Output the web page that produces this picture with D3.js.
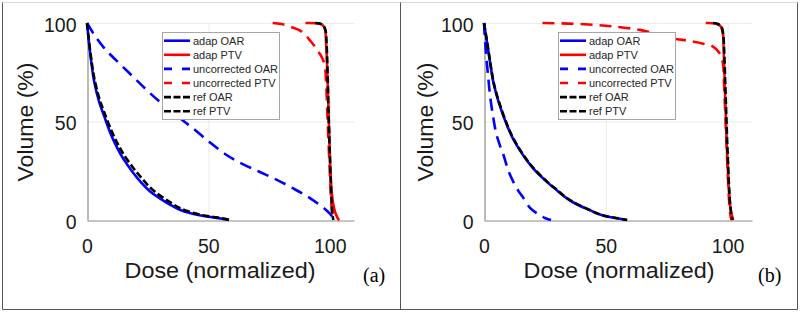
<!DOCTYPE html>
<html><head><meta charset="utf-8">
<script src="https://cdn.jsdelivr.net/npm/d3@7/dist/d3.min.js"></script>
<style>body{margin:0;background:#fff}svg{display:block}</style>
</head><body>
<svg id="c" width="800" height="312"></svg>
<script>
// ---- data ----
const xTicks = [0, 50, 100];
const yTicks = [0, 50, 100];
const legendLabels = ["adap OAR", "adap PTV", "uncorrected OAR", "uncorrected PTV", "ref OAR", "ref PTV"];
const panelLabels = ["(a)", "(b)"];
const xLabel = "Dose (normalized)";
const yLabel = "Volume (%)";

// panel (a): [dose, volume]
const aAdapOAR = [[0,100],[1,88],[2,78],[3,70],[5,60],[7,53],[10,43],[12.5,36.5],[15,31],[19,24],[22,19.5],[26,14.5],[30,11],[34.5,7.6],[38,5.3],[42.7,3.4],[47,2.3],[51,1.5],[55,0.8],[58.4,0]];
const aAdapPTV = [[90,100],[95,99.8],[97,99],[98,97],[98.5,90],[99,75],[99.5,55],[100,35],[100.5,20],[101,12],[101.8,6],[102.5,3],[103.5,0.5],[104,0]];
const aUncOAR = [[0,100],[3,94],[6.6,88],[10,83.5],[15,77.5],[20,71.5],[25,65.5],[30,60],[35,55],[40,50],[43.7,46.5],[50,40],[57.5,33],[64,28.5],[71,24.5],[78,20.5],[85,16],[92,11],[98.6,5],[101,2]];
const aUncPTV = [[76.5,100],[80,99.5],[84,98],[88,96],[92,91],[95,86],[97,82],[98,78],[98.5,70],[99,55],[99.5,40],[100,25],[100.5,12],[101,4],[101.5,0]];
const aRefOAR = [[0,100],[1,89],[2,79.5],[3,72],[5,62],[7,55],[10,45.5],[12.5,39],[15,33.5],[19,26.5],[22,22],[26,16.5],[30,12.5],[34.5,8.8],[38,6.2],[42.7,4],[47,2.6],[51,1.7],[55,1],[59,0]];
const aRefPTV = [[94,100],[96,99.7],[97.5,98.5],[98.3,96],[98.7,90],[99.1,75],[99.5,55],[100,35],[100.4,20],[100.8,8],[101.2,2],[101.5,0]];

// panel (b)
const bAdapOAR = [[0,100],[1,92],[2,84],[3,76],[4,69],[6,60],[9.3,48.5],[12,41],[16,33],[20,26.5],[25.7,19.5],[30,15],[34,11],[38,8],[43.4,5],[47,3],[50.3,1.8],[55,0.8],[58.5,0]];
const bAdapPTV = [[91,100],[95,99.7],[97,98.5],[98,95],[98.4,85],[98.8,70],[99.2,55],[99.6,40],[100,28],[100.5,16],[101,8],[101.6,3],[102.3,0]];
const bUncOAR = [[0,100],[0.5,90],[1,82],[1.7,73],[2.5,63],[3.8,52],[5,44],[6.5,38],[8,33],[10,25],[12,19.5],[14,15],[16,11.5],[19,6],[21,4],[23,2.5],[25,1],[27.5,0]];
const bUncPTV = [[24,100],[35,99.7],[46,99],[55,98],[64,96.5],[72,94],[78,92],[84,91],[90,89.5],[94,88],[96.5,85],[98,80],[98.5,70],[99,55],[99.5,40],[100,25],[100.5,12],[101,4],[101.5,0]];
const bRefOAR = [[0,100],[1,92.5],[2,84.5],[3,76.5],[4,69.5],[6,60.5],[9.3,49],[12,41.5],[16,33.3],[20,26.8],[25.7,19.7],[30,15.2],[34,11.2],[38,8.2],[43.4,5.1],[47,3.1],[50.3,1.9],[55,0.9],[58.8,0]];
const bRefPTV = [[94,100],[96,99.5],[97.5,98],[98.2,94],[98.6,85],[99,70],[99.4,55],[99.8,40],[100.2,28],[100.6,16],[101.1,7],[101.6,2],[102,0]];

// ---- styles ----
const colors = ["#0000ff", "#ff0000", "#0000ff", "#ff0000", "#000000", "#000000"];
const plotDash = [null, null, "12,7", "12,7", "7,3", "7,3"];
const legendDash = [null, null, "8,10", "8,10", "7,2.5", "7,2.5"];

const panels = [
  { series: [aAdapOAR, aAdapPTV, aUncOAR, aUncPTV, aRefOAR, aRefPTV], left: 87, right: 354, legX: 162, ylabX: 33, plX: 363, labCx: 220 },
  { series: [bAdapOAR, bAdapPTV, bUncOAR, bUncPTV, bRefOAR, bRefPTV], left: 484, right: 752, legX: 558, ylabX: 433, plX: 758, labCx: 619 }
];

const svg = d3.select("#c");
const yTop = 23, yBot = 220;
const font = "Liberation Sans, Arial, Helvetica, sans-serif";

// frames
svg.append("rect").attr("x",0).attr("y",0).attr("width",800).attr("height",312).attr("fill","#fff");
svg.append("line").attr("x1",2.5).attr("x2",797.5).attr("y1",2.5).attr("y2",2.5).attr("stroke","#d8d8d8");
svg.append("line").attr("x1",2.5).attr("x2",797.5).attr("y1",309.5).attr("y2",309.5).attr("stroke","#555");
[2.5, 400.5, 797.5].forEach(xx => svg.append("line").attr("x1",xx).attr("x2",xx).attr("y1",2.5).attr("y2",309.5).attr("stroke","#555"));

panels.forEach((p, pi) => {
  const x = d3.scaleLinear().domain([0, 110]).range([p.left, p.right]);
  const y = d3.scaleLinear().domain([0, 100]).range([yBot, yTop]);
  const g = svg.append("g");

  // grid
  g.append("g").selectAll("line").data(xTicks.filter(t => t > 0)).join("line")
    .attr("x1", d => x(d) + 0.5).attr("x2", d => x(d) + 0.5).attr("y1", yTop).attr("y2", yBot)
    .attr("stroke", "#ebebeb").attr("stroke-width", 1);
  g.append("g").selectAll("line").data(yTicks.filter(t => t > 0)).join("line")
    .attr("x1", p.left).attr("x2", p.right).attr("y1", d => y(d) + 0.5).attr("y2", d => y(d) + 0.5)
    .attr("stroke", "#ebebeb").attr("stroke-width", 1);

  // axes
  const ax = g.append("g").attr("transform", `translate(0,${yBot + 0.5})`)
    .call(d3.axisBottom(x).tickValues(xTicks).tickSize(0).tickSizeOuter(0).tickPadding(19));
  const ay = g.append("g").attr("transform", `translate(${p.left + 0.5},0)`)
    .call(d3.axisLeft(y).tickValues(yTicks).tickSize(0).tickSizeOuter(0).tickPadding(11));
  [ax, ay].forEach(a => {
    a.select(".domain").attr("stroke", "#8c8c8c").attr("stroke-width", 1.2);
    a.selectAll("text").attr("font-family", font).attr("font-size", 19.5).attr("fill", "#1a1a1a");
  });
  ay.selectAll("text").attr("dy", "0.42em");

  // curves
  const line = d3.line().x(d => x(d[0])).y(d => y(d[1])).curve(d3.curveCatmullRom.alpha(0.5));
  p.series.forEach((s, i) => {
    g.append("path").attr("d", line(s)).attr("fill", "none")
      .attr("stroke", colors[i]).attr("stroke-width", 2.6)
      .attr("stroke-dasharray", plotDash[i]).attr("stroke-linejoin", "round");
  });

  // legend
  const lg = g.append("g");
  lg.append("rect").attr("x", p.legX + 0.5).attr("y", 32.5).attr("width", 117).attr("height", 87)
    .attr("fill", "#fff").attr("stroke", "#a6a6a6").attr("stroke-width", 1);
  legendLabels.forEach((lab, i) => {
    const cy = 40.7 + i * 14.1;
    lg.append("line").attr("x1", p.legX + 2).attr("x2", p.legX + 28).attr("y1", cy).attr("y2", cy)
      .attr("stroke", colors[i]).attr("stroke-width", 2.6).attr("stroke-dasharray", legendDash[i]);
    lg.append("text").attr("x", p.legX + 31).attr("y", cy).attr("dy", "0.35em")
      .attr("font-family", font).attr("font-size", 11).attr("fill", "#262626").text(lab);
  });

  // axis labels
  g.append("text").attr("x", p.labCx).attr("y", 278).attr("text-anchor", "middle")
    .attr("font-family", font).attr("font-size", 22.5).attr("fill", "#1a1a1a")
    .attr("textLength", 191).attr("lengthAdjust", "spacingAndGlyphs").text(xLabel);
  g.append("text").attr("transform", `translate(${p.ylabX},122) rotate(-90)`).attr("text-anchor", "middle")
    .attr("font-family", font).attr("font-size", 22.5).attr("fill", "#1a1a1a")
    .attr("textLength", 119).attr("lengthAdjust", "spacingAndGlyphs").text(yLabel);

  // panel label
  g.append("text").attr("x", p.plX).attr("y", 282)
    .attr("font-family", "Liberation Serif, Times New Roman, serif").attr("font-size", 20).attr("fill", "#000")
    .text(panelLabels[pi]);
});
</script>
</body></html>
